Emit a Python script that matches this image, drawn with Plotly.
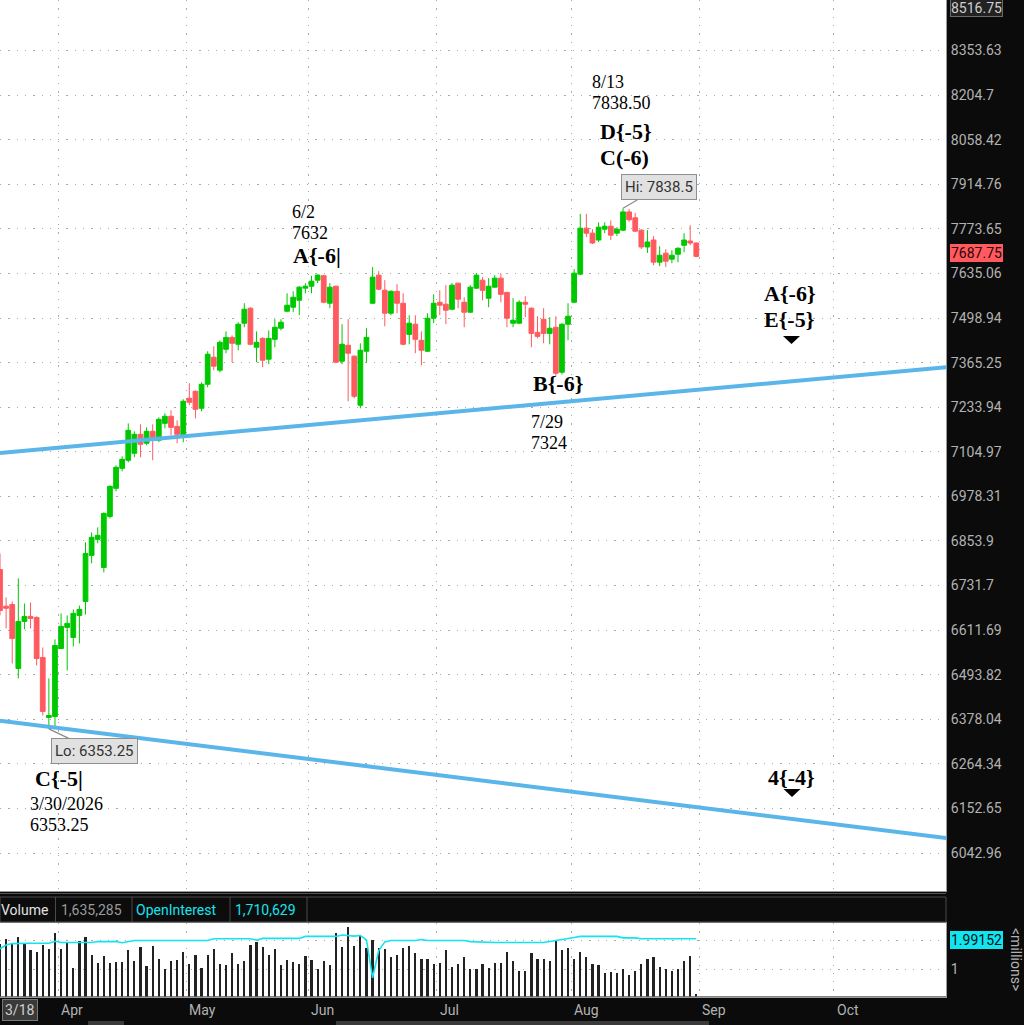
import math
import pandas as pd
import plotly.graph_objects as go

# ---------------- data ----------------
START_DATE = "2026-03-18"
HOLIDAYS = ["2026-04-03", "2026-05-25", "2026-06-19", "2026-07-03"]

opens = [6775.5, 6675.7, 6680.3, 6510.1, 6634.9, 6648.3, 6645.6, 6538.9, 6382.7, 6385.3,
         6562.8, 6618.9, 6592.2, 6650.9, 6688.5, 6814.0, 6858.3, 6780.8, 6921.9, 7000.9,
         7057.6, 7080.6, 7100.7, 7155.2, 7129.4, 7163.8, 7138.0, 7186.9, 7207.4, 7178.1,
         7146.6, 7260.0, 7280.4, 7230.7, 7301.1, 7381.3, 7342.7, 7405.0, 7440.6, 7419.9,
         7483.2, 7528.6, 7411.0, 7437.6, 7375.4, 7434.7, 7468.1, 7519.5, 7531.7, 7552.9,
         7589.8, 7595.9, 7614.4, 7628.0, 7543.8, 7595.9, 7369.4, 7416.9, 7384.3, 7239.5,
         7399.1, 7543.8, 7629.8, 7583.6, 7513.5, 7580.1, 7543.8, 7449.6, 7480.2, 7431.7,
         7399.1, 7498.3, 7546.8, 7540.8, 7525.6, 7605.2, 7546.8, 7516.5, 7589.8, 7614.4,
         7559.0, 7592.9, 7620.6, 7577.0, 7483.2, 7483.2, 7546.8, 7528.6, 7455.6, 7495.3,
         7452.6, 7471.1, 7336.7, 7480.2, 7546.8, 7632.9, 7775.8, 7760.2, 7738.7, 7772.6,
         7782.0, 7760.2, 7769.5, 7827.0, 7808.4, 7769.5, 7717.0, 7738.7, 7669.9, 7697.7,
         7679.1, 7694.5, 7722.2, 7735.6, 7729.4]

highs = [6819.0, 6699.3, 6688.5, 6751.0, 6683.0, 6685.7, 6648.3, 6565.5, 6483.9, 6586.9,
         6656.3, 6650.9, 6666.7, 6677.6, 6850.0, 6877.7, 6891.6, 6933.2, 7009.3, 7066.2,
         7092.1, 7186.9, 7163.8, 7184.0, 7175.3, 7184.0, 7204.4, 7216.1, 7224.9, 7195.7,
         7257.0, 7304.1, 7283.3, 7307.1, 7399.1, 7414.0, 7431.7, 7458.5, 7446.6, 7486.2,
         7543.8, 7531.7, 7458.5, 7440.6, 7461.5, 7495.3, 7495.3, 7573.9, 7580.1, 7595.9,
         7605.2, 7628.0, 7632.0, 7631.0, 7605.2, 7597.0, 7480.2, 7495.3, 7387.2, 7422.8,
         7468.0, 7654.5, 7642.1, 7614.4, 7583.2, 7602.1, 7574.0, 7507.4, 7507.4, 7458.5,
         7513.5, 7571.0, 7583.2, 7599.0, 7605.2, 7606.0, 7562.0, 7599.0, 7636.0, 7623.7,
         7620.6, 7629.8, 7636.0, 7578.0, 7559.0, 7552.9, 7565.0, 7531.7, 7504.4, 7528.6,
         7501.4, 7504.4, 7483.2, 7543.8, 7648.3, 7820.8, 7820.8, 7772.6, 7794.1, 7794.1,
         7800.4, 7778.9, 7838.5, 7836.3, 7823.9, 7772.6, 7769.5, 7751.0, 7719.1, 7710.0,
         7706.9, 7716.0, 7760.2, 7785.1, 7731.0]

lows = [6651.0, 6616.2, 6523.2, 6483.9, 6613.6, 6616.2, 6517.9, 6387.8, 6353.25, 6359.5,
        6561.0, 6504.8, 6568.2, 6576.2, 6653.6, 6792.3, 6847.3, 6767.3, 6916.3, 6992.4,
        7049.0, 7074.8, 7089.2, 7089.2, 7123.6, 7080.6, 7132.2, 7172.4, 7152.3, 7129.4,
        7132.2, 7239.5, 7201.5, 7222.0, 7292.3, 7342.7, 7336.7, 7393.2, 7366.4, 7402.1,
        7471.1, 7416.9, 7366.4, 7351.6, 7360.5, 7411.0, 7461.5, 7516.5, 7516.5, 7507.4,
        7574.0, 7574.0, 7605.2, 7543.8, 7528.6, 7363.5, 7360.5, 7251.2, 7260.0, 7230.7,
        7366.4, 7541.0, 7583.6, 7474.1, 7507.4, 7513.5, 7416.9, 7419.9, 7393.2, 7357.5,
        7397.0, 7483.2, 7507.4, 7480.2, 7522.6, 7528.6, 7471.1, 7515.0, 7588.0, 7552.9,
        7531.7, 7591.0, 7546.8, 7471.1, 7471.1, 7481.0, 7501.4, 7411.0, 7437.6, 7422.8,
        7419.9, 7324.0, 7330.0, 7431.7, 7543.8, 7629.8, 7747.9, 7726.3, 7732.5, 7760.2,
        7738.7, 7751.0, 7766.4, 7796.0, 7763.3, 7710.8, 7698.6, 7660.6, 7657.5, 7654.5,
        7666.8, 7669.9, 7700.7, 7722.2, 7685.0]

closes = [6664.0, 6670.2, 6589.5, 6634.9, 6648.3, 6643.0, 6536.3, 6398.2, 6387.8, 6570.8,
          6621.6, 6629.6, 6656.3, 6667.0, 6819.5, 6863.9, 6869.4, 6930.4, 7006.5, 7060.5,
          7083.4, 7166.7, 7155.2, 7126.5, 7163.8, 7138.0, 7198.6, 7207.4, 7175.3, 7155.2,
          7251.2, 7248.3, 7227.8, 7301.1, 7390.2, 7354.6, 7425.8, 7440.6, 7422.8, 7480.2,
          7525.6, 7419.9, 7425.8, 7372.4, 7437.6, 7471.1, 7486.2, 7537.7, 7562.0, 7592.9,
          7595.9, 7611.3, 7630.0, 7546.8, 7592.9, 7366.4, 7419.9, 7393.2, 7265.8, 7402.1,
          7440.6, 7623.7, 7586.7, 7513.5, 7580.1, 7543.8, 7419.9, 7483.2, 7434.7, 7402.1,
          7498.3, 7543.8, 7537.7, 7522.6, 7599.0, 7556.0, 7516.5, 7592.9, 7629.8, 7583.2,
          7595.9, 7620.6, 7571.0, 7498.3, 7492.3, 7546.8, 7540.8, 7452.6, 7443.6, 7452.6,
          7468.0, 7333.8, 7480.2, 7504.4, 7636.0, 7775.8, 7760.2, 7729.4, 7778.9, 7782.0,
          7754.0, 7772.6, 7827.0, 7802.2, 7766.4, 7717.0, 7732.5, 7669.9, 7691.4, 7672.9,
          7691.4, 7713.0, 7738.7, 7729.4, 7687.75]

volume_m = [1.90, 2.06, 1.87, 2.14, 1.87, 1.67, 1.62, 1.85, 1.70, 2.28,
            1.70, 1.91, 1.05, 1.99, 2.14, 1.52, 1.23, 1.48, 1.23, 1.27,
            1.27, 1.67, 1.30, 1.77, 1.11, 1.80, 1.37, 1.00, 1.30, 1.33,
            1.62, 1.20, 1.52, 1.05, 1.52, 1.70, 1.20, 1.15, 1.58, 1.20,
            1.30, 1.85, 1.95, 1.77, 1.52, 1.70, 1.15, 1.33, 1.25, 1.20,
            1.48, 1.33, 1.00, 1.30, 1.15, 2.28, 1.77, 2.47, 1.80, 2.20,
            1.74, 2.04, 1.74, 1.70, 1.43, 1.52, 1.74, 1.80, 1.58, 1.37,
            1.37, 1.19, 1.23, 1.67, 1.09, 1.19, 1.43, 1.00, 1.00, 1.19,
            1.05, 1.23, 1.23, 1.62, 1.30, 0.96, 0.96, 1.58, 1.37, 1.37,
            1.30, 1.99, 1.67, 1.74, 1.37, 1.62, 1.43, 1.19, 1.15, 0.86,
            0.90, 0.86, 1.00, 0.81, 0.93, 1.19, 1.37, 1.43, 1.09, 1.00,
            0.96, 1.00, 1.30, 1.48, 0.16]

open_interest_m = [1.72, 1.85, 1.90, 1.91, 1.91, 1.91, 1.91, 1.91, 1.91, 1.98,
                   1.94, 1.94, 1.94, 1.94, 1.94, 1.94, 1.97, 1.97, 1.97, 1.97,
                   1.93, 1.97, 2.01, 2.01, 2.01, 2.01, 2.01, 2.01, 2.01, 2.01,
                   2.01, 2.01, 2.01, 2.01, 2.01, 2.07, 2.07, 2.07, 2.07, 2.07,
                   2.07, 2.07, 2.02, 2.08, 2.08, 2.08, 2.08, 2.08, 2.08, 2.08,
                   2.15, 2.15, 2.15, 2.15, 2.15, 2.15, 2.20, 2.17, 2.16, 2.18,
                   2.03, 0.71, 1.66, 1.96, 2.01, 2.01, 2.01, 2.01, 2.01, 2.04,
                   2.01, 2.01, 2.01, 2.01, 2.01, 2.01, 2.01, 1.97, 1.96, 1.94,
                   1.94, 1.94, 1.94, 1.94, 1.94, 1.94, 1.94, 1.94, 1.92, 1.94,
                   1.97, 2.01, 2.06, 2.08, 2.11, 2.15, 2.15, 2.15, 2.15, 2.15,
                   2.15, 2.15, 2.10, 2.10, 2.10, 2.07, 2.07, 2.07, 2.07, 2.07,
                   2.07, 2.07, 2.07, 2.07, 2.07]

# trend lines: (bar index, price) end points
upper_trend_idx = [0, 155]
upper_trend_px = [7101.2, 7351.5]
lower_trend_idx = [0, 155]
lower_trend_px = [6374.2, 6079.5]

price_ticks = [8353.63, 8204.7, 8058.42, 7914.76, 7773.65, 7635.06, 7498.94, 7365.25,
               7233.94, 7104.97, 6978.31, 6853.9, 6731.7, 6611.69, 6493.82, 6378.04,
               6264.34, 6152.65, 6042.96]
price_tick_text = ["8353.63", "8204.7", "8058.42", "7914.76", "7773.65", "7635.06",
                   "7498.94", "7365.25", "7233.94", "7104.97", "6978.31", "6853.9",
                   "6731.7", "6611.69", "6493.82", "6378.04", "6264.34", "6152.65",
                   "6042.96"]
top_price_label = "8516.75"
last_price_label = "7687.75"
oi_label = "1.99152"
hi_label = "Hi: 7838.5"
lo_label = "Lo: 6353.25"
hi_bar, hi_price = 102, 7838.5
lo_bar, lo_price = 8, 6353.25

# ---------------- helpers ----------------
W, H = 1024, 1025
PLOT_R = 946.0
PX_PER_BAR = 6.108


def PX(x):
    return x / W


def PY(y):
    return 1 - y / H


trade_dates = pd.bdate_range(START_DATE, "2026-10-30", freq="C", holidays=HOLIDAYS)
n = len(opens)
bar_idx = list(range(n))

x_max = PLOT_R / PX_PER_BAR
month_pos, month_lbl = [], []
prev = None
for i, d in enumerate(trade_dates):
    if prev is not None and d.month != prev.month and i - 0.5 < x_max:
        month_pos.append(i - 0.5)
        month_lbl.append(d.strftime("%b"))
    prev = d

UP = "#00c800"
DN = "#ff5a5f"
GRID = "#a9a9a9"
DASH = "1.3px,7px"
TREND = "#5ab5e8"
OI_C = "#12e4f0"
AX_TXT = "#b2b2b2"

fig = go.Figure()

fig.add_trace(go.Candlestick(
    x=bar_idx, open=opens, high=highs, low=lows, close=closes,
    increasing=dict(line=dict(color=UP, width=1), fillcolor=UP),
    decreasing=dict(line=dict(color=DN, width=1), fillcolor=DN),
    whiskerwidth=0, showlegend=False, hoverinfo="skip",
    xaxis="x", yaxis="y"))

fig.add_trace(go.Scatter(x=upper_trend_idx, y=upper_trend_px, mode="lines",
                         line=dict(color=TREND, width=4), showlegend=False,
                         hoverinfo="skip", xaxis="x", yaxis="y"))
fig.add_trace(go.Scatter(x=lower_trend_idx, y=lower_trend_px, mode="lines",
                         line=dict(color=TREND, width=4), showlegend=False,
                         hoverinfo="skip", xaxis="x", yaxis="y"))

fig.add_trace(go.Bar(x=bar_idx, y=volume_m, width=0.36,
                     marker=dict(color="#222222", line=dict(width=0)),
                     showlegend=False, hoverinfo="skip", xaxis="x2", yaxis="y2"))
fig.add_trace(go.Scatter(x=bar_idx, y=open_interest_m, mode="lines",
                         line=dict(color=OI_C, width=1.6), showlegend=False,
                         hoverinfo="skip", xaxis="x2", yaxis="y2"))

y_lo = 5951.0
y_hi = 8525.7
vol_px_per_m = 28.74

fig.update_layout(
    width=W, height=H,
    margin=dict(l=0, r=0, t=0, b=0),
    paper_bgcolor="#0b0b0b",
    plot_bgcolor="#ffffff",
    boxgap=0.12, boxgroupgap=0.12,
    bargap=0,
    showlegend=False,
    xaxis=dict(domain=[0, PX(PLOT_R)], range=[0, x_max], tickvals=month_pos,
               showticklabels=False, ticks="", showgrid=True, gridcolor=GRID,
               griddash=DASH, gridwidth=1, zeroline=False, showline=True,
               mirror=True, linecolor="#9a9a9a", linewidth=1,
               rangeslider=dict(visible=False), anchor="y"),
    yaxis=dict(domain=[PY(891), 1], type="log",
               range=[math.log10(y_lo), math.log10(y_hi)],
               side="right", tickvals=price_ticks, ticktext=price_tick_text,
               tickfont=dict(family="Roboto", size=14, color=AX_TXT),
               ticks="", ticklabelstandoff=1, showgrid=True, gridcolor=GRID,
               griddash=DASH, gridwidth=1, zeroline=False, showline=True,
               mirror=True, linecolor="#9a9a9a", linewidth=1, anchor="x"),
    xaxis2=dict(domain=[0, PX(PLOT_R)], range=[0, x_max], matches="x",
                tickvals=month_pos, showticklabels=False, ticks="",
                showgrid=True, gridcolor=GRID, griddash=DASH, gridwidth=1,
                zeroline=False, showline=True, mirror=True,
                linecolor="#9a9a9a", linewidth=1, anchor="y2"),
    yaxis2=dict(domain=[PY(996.5), PY(923)],
                range=[(998.2 - 996.5) / vol_px_per_m,
                       (998.2 - 923) / vol_px_per_m],
                side="right", tickvals=[1, 1.99152], ticktext=["1", ""],
                tickfont=dict(family="Roboto", size=14, color=AX_TXT),
                ticks="", ticklabelstandoff=1, showgrid=True, gridcolor=GRID,
                griddash=DASH, gridwidth=1, zeroline=False, showline=True,
                mirror=True, linecolor="#9a9a9a", linewidth=1, anchor="x2"),
)

ann = []
SERIF = "Liberation Serif"


def txt(x, y, s, size=18, bold=False, color="#000000", family=SERIF,
        xanchor="left", **kw):
    ann.append(dict(xref="paper", yref="paper", x=PX(x), y=PY(y),
                    text=("<b>%s</b>" % s) if bold else s, showarrow=False,
                    xanchor=xanchor, yanchor="middle",
                    font=dict(family=family, size=size, color=color), **kw))


# wave annotations
txt(590, 81.7, "8/13")
txt(590, 103.3, "7838.50")
txt(598, 131.7, "D{-5}", 22, True)
txt(598, 157.3, "C(-6)", 22, True)
txt(290, 212.3, "6/2")
txt(290, 233.3, "7632")
txt(291, 255, "A{-6|", 22, True)
txt(762, 293.3, "A{-6}", 22, True)
txt(762, 319, "E{-5}", 22, True)
txt(531, 383.3, "B{-6}", 22, True)
txt(529, 422, "7/29")
txt(529, 443, "7324")
txt(33, 778, "C{-5|", 22, True)
txt(28, 804.3, "3/30/2026")
txt(28, 825, "6353.25")
txt(766, 777.3, "4{-4}", 22, True)

# Hi / Lo callouts
for bx, by, label, axo, ayo in [(hi_bar, hi_price, hi_label, 36, -21),
                                (lo_bar, lo_price, lo_label, 46, 22)]:
    ann.append(dict(xref="x", yref="y", x=bx, y=math.log10(by), text=label,
                    showarrow=True, arrowhead=0, arrowwidth=1.2,
                    arrowcolor="#8a8a8a", ax=axo, ay=ayo,
                    bgcolor="#e1e1e1", bordercolor="#8f8f8f", borderwidth=1,
                    borderpad=3,
                    font=dict(family="Roboto", size=15, color="#333333")))

# right axis boxes
txt(950, 8, top_price_label, 14, family="Roboto", color="#cfcfcf",
    bgcolor="#222222", bordercolor="#6a6a6a", borderwidth=1, borderpad=0)
txt(950, 252.5, last_price_label, 14, family="Roboto", color="#2a0505",
    bgcolor=DN, bordercolor=DN, borderwidth=1, borderpad=0)
txt(950, 940, oi_label, 14, family="Roboto", color="#051010",
    bgcolor=OI_C, bordercolor=OI_C, borderwidth=1, borderpad=0)
ann.append(dict(xref="paper", yref="paper", x=PX(1016), y=PY(959),
                text="&lt;millions&gt;", textangle=90, showarrow=False,
                xanchor="center", yanchor="middle",
                font=dict(family="Roboto", size=14, color=AX_TXT)))

# volume header
txt(-1, 910, "Volume", 14, family="Roboto", color="#e2e2e2")
txt(59, 910, "1,635,285", 14, family="Roboto", color="#9a9a9a")
txt(134, 910, "OpenInterest", 14, family="Roboto", color="#19e3ee")
txt(233, 910, "1,710,629", 14, family="Roboto", color="#19e3ee")

# month labels
for pos, lbl in zip(month_pos, month_lbl):
    ann.append(dict(xref="x", yref="paper", x=pos, y=PY(1010), text=lbl,
                    showarrow=False, xanchor="left", yanchor="middle", xshift=1,
                    font=dict(family="Roboto", size=14, color=AX_TXT)))
txt(2, 1010, "3/18", 14, family="Roboto", color="#cfcfcf",
    bgcolor="#3a3a3a", bordercolor="#777777", borderwidth=1, borderpad=2)

fig.update_layout(annotations=ann)

shapes = []


def pline(x0, y0, x1, y1, color, width=1):
    shapes.append(dict(type="line", xref="paper", yref="paper",
                       x0=PX(x0), y0=PY(y0), x1=PX(x1), y1=PY(y1),
                       line=dict(color=color, width=width), layer="above"))


def prect(x0, y0, x1, y1, fill, line="rgba(0,0,0,0)"):
    shapes.append(dict(type="rect", xref="paper", yref="paper",
                       x0=PX(x0), y0=PY(y0), x1=PX(x1), y1=PY(y1),
                       fillcolor=fill, line=dict(color=line, width=1), layer="above"))


def ptri(cx, ytop, half, h):
    shapes.append(dict(type="path", xref="paper", yref="paper",
                       path="M %f %f L %f %f L %f %f Z" % (
                           PX(cx - half), PY(ytop), PX(cx + half), PY(ytop),
                           PX(cx), PY(ytop + h)),
                       fillcolor="#000000", line=dict(width=0), layer="above"))


ptri(791.5, 336, 8.5, 8)
ptri(792, 789, 8.5, 8)

pline(0, 893.5, PLOT_R, 893.5, "#555555")
prect(0, 897, PLOT_R, 922, "#0c0c0c", "#4a4a4a")
for sx in [55.5, 132, 230, 307]:
    pline(sx, 897, sx, 922, "#4a4a4a")
prect(336, 1021, 709, 1025, "#3a3a3a")
prect(88, 1021, 124, 1025, "#3a3a3a")

fig.update_layout(shapes=shapes)

fig.write_html(
    "out.html",
    config={"displayModeBar": False, "staticPlot": True},
    post_script="document.body.style.margin='0';document.body.style.padding='0';"
                "document.documentElement.style.overflow='hidden';")
